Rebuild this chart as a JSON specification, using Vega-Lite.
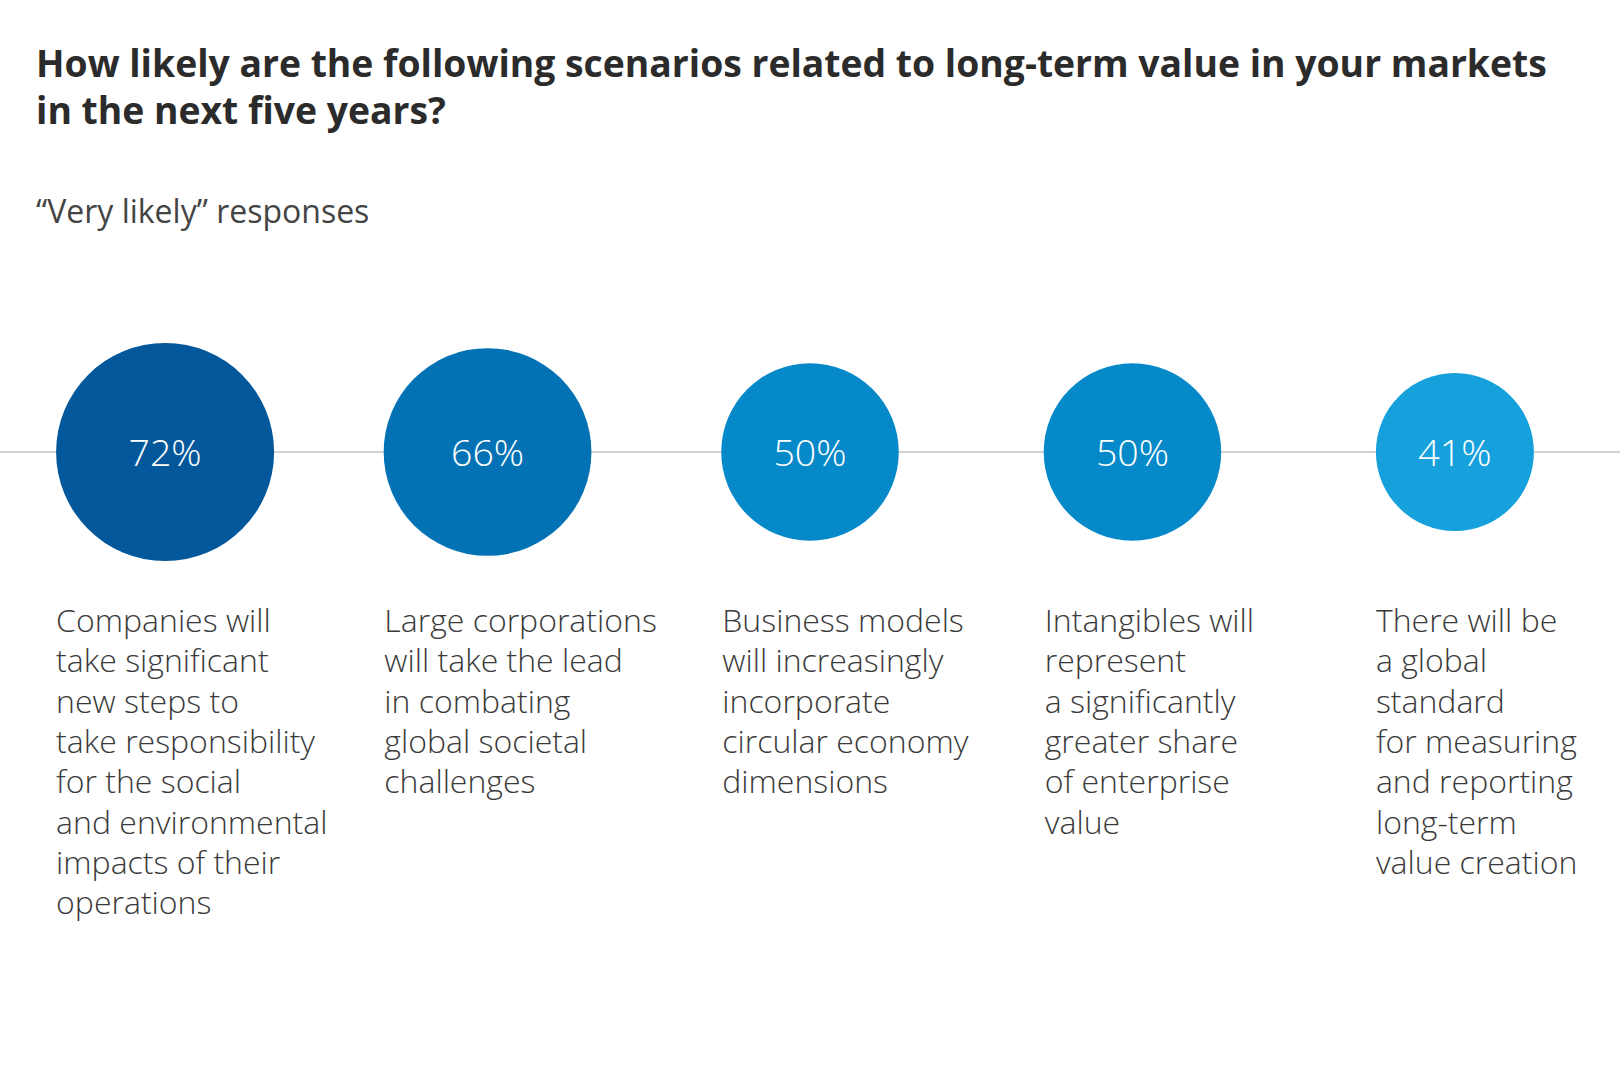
{
  "$schema": "https://vega.github.io/schema/vega-lite/v6.json",
  "width": 1620,
  "height": 384,
  "autosize": {"type": "none"},
  "padding": {"left": 0, "right": 0, "top": 260, "bottom": 436},
  "background": "white",
  "config": {"view": {"stroke": null}, "font": "Open Sans"},
  "title": {
    "text": ["How likely are the following scenarios related to long-term value in your markets", "in the next five years?"],
    "subtitle": "“Very likely” responses",
    "anchor": "start",
    "frame": "group",
    "dx": 36,
    "font": "Open Sans",
    "fontSize": 37.3,
    "fontWeight": "bold",
    "color": "#2b2b2b",
    "lineHeight": 47,
    "subtitleFont": "Open Sans",
    "subtitleFontSize": 32,
    "subtitleFontWeight": "normal",
    "subtitleColor": "#444444",
    "subtitlePadding": 66,
    "offset": 30
  },
  "data": {
    "values": [
      {"label": "Companies will\ntake significant\nnew steps to\ntake responsibility\nfor the social\nand environmental\nimpacts of their\noperations", "value": 0.72},
      {"label": "Large corporations\nwill take the lead\nin combating\nglobal societal\nchallenges", "value": 0.66},
      {"label": "Business models\nwill increasingly\nincorporate\ncircular economy\ndimensions", "value": 0.50},
      {"label": "Intangibles will\nrepresent\na significantly\ngreater share\nof enterprise\nvalue", "value": 0.50},
      {"label": "There will be\na global\nstandard\nfor measuring\nand reporting\nlong-term\nvalue creation", "value": 0.41}
    ]
  },
  "layer": [
    {
      "data": {"values": [{}]},
      "mark": {"type": "rule", "color": "#c4c4c4", "strokeWidth": 1.5},
      "encoding": {
        "y": {"datum": 0, "type": "quantitative", "scale": {"domain": [-1, 1]}, "axis": null}
      }
    },
    {
      "mark": {"type": "point", "shape": "circle", "filled": true, "opacity": 1},
      "encoding": {
        "x": {"field": "label", "type": "nominal", "sort": null, "scale": {"type": "point", "padding": 0.512}, "axis": null},
        "y": {"datum": 0, "type": "quantitative", "scale": {"domain": [-1, 1]}, "axis": null},
        "size": {"field": "value", "type": "quantitative", "scale": {"domain": [0.41, 0.72], "range": [24964, 47524], "zero": false}, "legend": null},
        "color": {"field": "label", "type": "nominal", "sort": null, "scale": {"range": ["#03579b", "#0372b5", "#0589c9", "#0589c9", "#17a1dc"]}, "legend": null}
      }
    },
    {
      "mark": {"type": "text", "color": "white", "fontSize": 37.5, "fontWeight": 300, "baseline": "middle", "align": "center", "dy": 3},
      "encoding": {
        "x": {"field": "label", "type": "nominal", "sort": null, "scale": {"type": "point", "padding": 0.512}, "axis": null},
        "y": {"datum": 0, "type": "quantitative", "scale": {"domain": [-1, 1]}, "axis": null},
        "text": {"field": "value", "type": "quantitative", "format": ".0%"}
      }
    },
    {
      "mark": {"type": "text", "color": "#3a3a3a", "fontSize": 32, "fontWeight": 300, "baseline": "alphabetic", "align": "left", "dy": 180, "lineHeight": 40.3, "lineBreak": "\n"},
      "encoding": {
        "x": {"field": "label", "type": "nominal", "sort": null, "scale": {"type": "point", "padding": 0.512}, "axis": null},
        "xOffset": {"field": "value", "type": "quantitative", "scale": {"domain": [0.41, 0.72], "range": [-79, -109]}},
        "y": {"datum": 0, "type": "quantitative", "scale": {"domain": [-1, 1]}, "axis": null},
        "text": {"field": "label", "type": "nominal"}
      }
    }
  ]
}
